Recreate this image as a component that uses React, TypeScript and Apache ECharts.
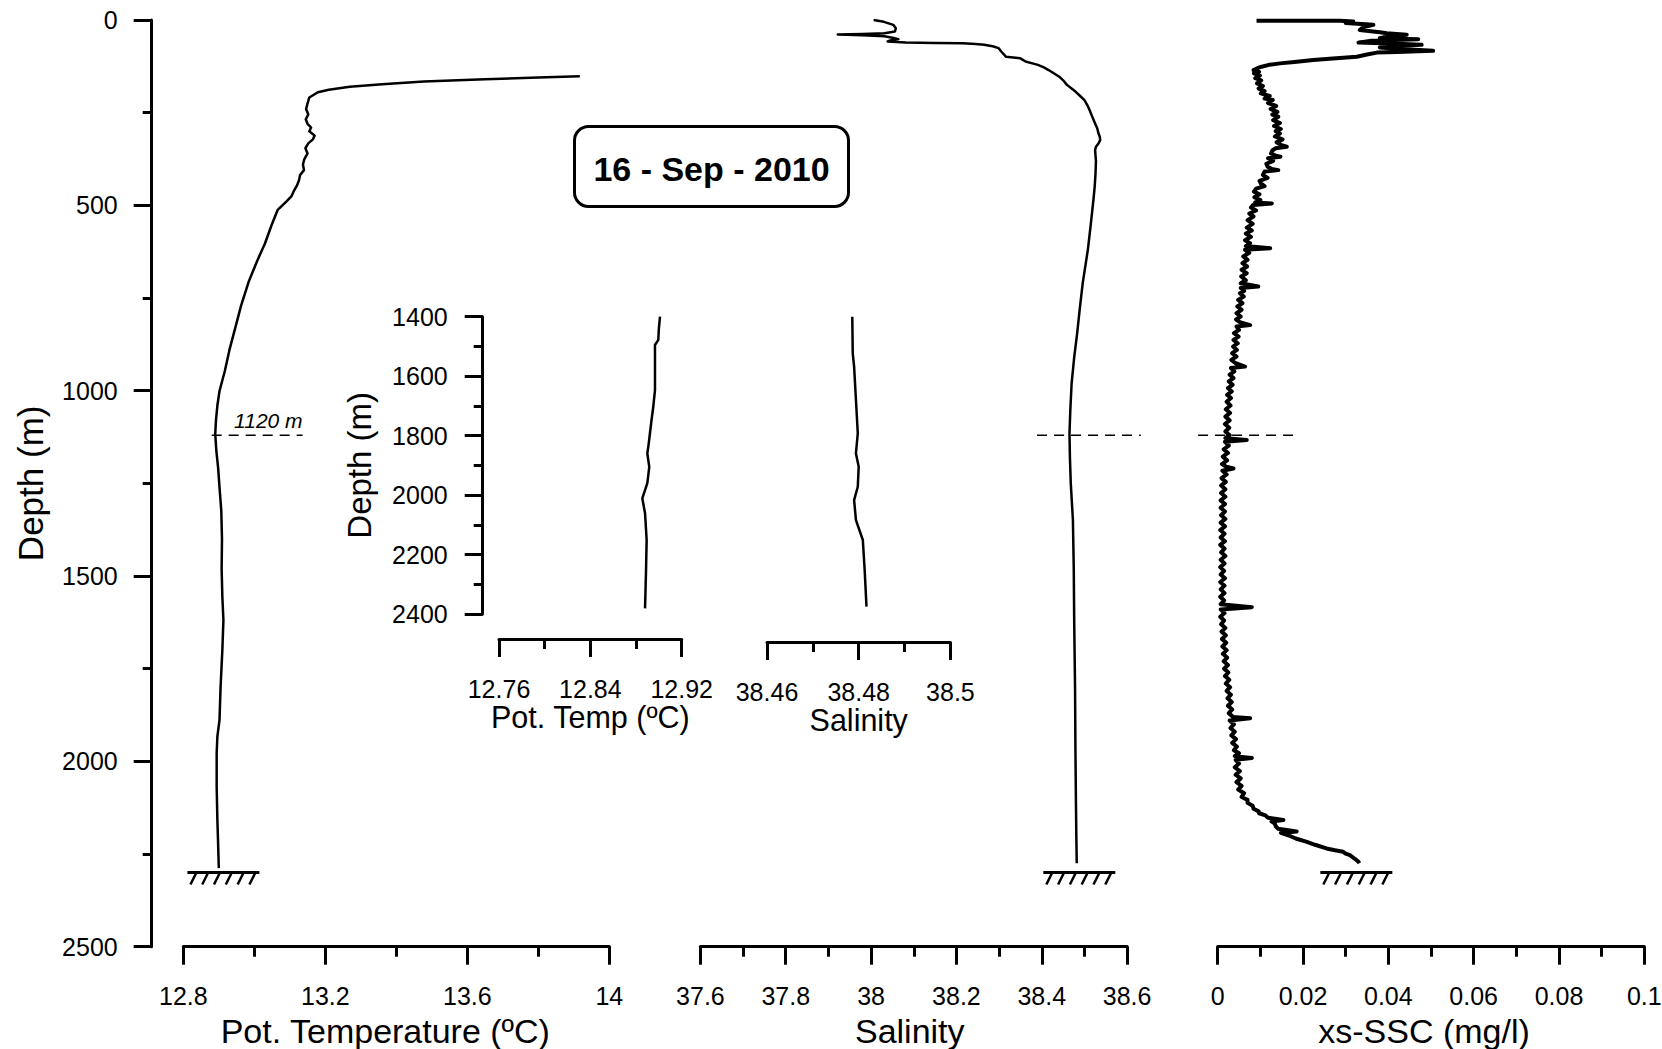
import { useEffect, useRef } from "react";
import * as echarts from "echarts";

const FONT = "'Liberation Sans', Arial, Helvetica, sans-serif";
const BLACK = "#000000";

// ---------- axes ----------
const depthRange = [0, 2500];
const depthStep = 500;
const tempRange = [12.8, 14];
const tempStep = 0.4;
const salRange = [37.6, 38.6];
const salStep = 0.2;
const sscRange = [0, 0.1];
const sscStep = 0.02;
const insetDepthRange = [1400, 2400];
const insetDepthStep = 200;
const insetTempRange = [12.76, 12.92];
const insetTempStep = 0.08;
const insetSalRange = [38.46, 38.5];
const insetSalStep = 0.02;

// ---------- texts ----------
const dateLabel = "16 - Sep - 2010";
const depthName = "Depth (m)";
const tempName = "Pot. Temperature (ºC)";
const salName = "Salinity";
const sscName = "xs-SSC (mg/l)";
const insetTempName = "Pot. Temp (ºC)";
const insetSalName = "Salinity";
const refLabel = "1120 m";

// ---------- reference depth / bottom ----------
const refDepth = 1120;
const refTempSpan = [12.88, 13.136];
const refSalSpan = [38.389, 38.632];
const refSscSpan = [-0.0046, 0.0191];
const bottomDepth = 2300;
const bottomTemp = 12.913;
const bottomSal = 38.488;
const bottomSsc = 0.0325;

// ---------- potential temperature profile ----------
const tempDepth = [152, 155, 160, 166, 173, 180, 188, 195, 209, 225, 240, 255, 268, 280, 290, 300, 312, 322, 333, 346,
  360, 375, 390, 405, 418, 432, 447, 460, 475, 490, 512, 555, 603, 650, 704, 770, 832, 890, 947, 1001,
  1040, 1080, 1117, 1162, 1207, 1261, 1324, 1400, 1480, 1556, 1619, 1700, 1800, 1888, 1933, 1978, 2068, 2158, 2220, 2288];
const tempValue = [13.917, 13.8, 13.65, 13.478, 13.36, 13.269, 13.21, 13.179, 13.155, 13.15, 13.146, 13.152, 13.145, 13.15, 13.16, 13.155, 13.17, 13.165, 13.152, 13.144,
  13.15, 13.141, 13.137, 13.14, 13.129, 13.126, 13.12, 13.112, 13.105, 13.09, 13.066, 13.048, 13.03, 13.008, 12.985, 12.963, 12.946, 12.93, 12.917, 12.902,
  12.896, 12.892, 12.89, 12.893, 12.898, 12.902, 12.907, 12.909, 12.908, 12.91, 12.913, 12.91, 12.905, 12.902, 12.896, 12.894, 12.894, 12.896, 12.898, 12.9];

// ---------- salinity profile ----------
const salDepth = [0, 5, 13, 22, 31, 36, 38, 39, 41, 44, 48, 52, 55, 58, 61, 62, 63, 65, 67, 71,
  76, 85, 99, 103, 112, 117, 121, 128, 135, 145, 153, 165, 175, 185, 193, 205, 216, 230, 243, 260,
  279, 292, 306, 315, 324, 333, 342, 351, 380, 414, 450, 486, 550, 620, 710, 780, 845, 910, 980, 1050,
  1115, 1180, 1250, 1349, 1480, 1619, 1800, 1978, 2100, 2200, 2275];
const salValue = [38.006, 38.03, 38.052, 38.058, 38.056, 38.031, 37.98, 37.922, 37.98, 38.031, 38.05, 38.064, 38.045, 38.039, 38.081, 38.15, 38.215, 38.245, 38.265, 38.285,
  38.299, 38.305, 38.316, 38.349, 38.362, 38.378, 38.391, 38.405, 38.416, 38.43, 38.441, 38.452, 38.459, 38.47, 38.479, 38.49, 38.5, 38.507, 38.512, 38.518,
  38.525, 38.53, 38.533, 38.536, 38.537, 38.533, 38.527, 38.525, 38.527, 38.526, 38.524, 38.521, 38.515, 38.508, 38.496, 38.489, 38.483, 38.476, 38.47, 38.467,
  38.465, 38.466, 38.468, 38.473, 38.475, 38.476, 38.478, 38.479, 38.48, 38.481, 38.482];

// ---------- xs-SSC profile: [depth, mg/l] ----------
const sscProfile = [
  [2, 0.0091], [2, 0.0287], [4, 0.0318], [8, 0.03], [13, 0.0365], [20, 0.034], [27, 0.0333], [33, 0.038], [36, 0.0396],
  [40, 0.0443], [44, 0.04], [49, 0.038], [52, 0.047], [56, 0.036], [61, 0.033], [64, 0.042], [67, 0.0478], [70, 0.04],
  [74, 0.038], [78, 0.043], [83, 0.0505], [86, 0.042], [88, 0.0373], [93, 0.035], [99, 0.0326], [104, 0.027], [108, 0.0224],
  [113, 0.018], [117, 0.0146], [121, 0.012], [126, 0.0103], [130, 0.0093], [135, 0.0084], [140, 0.0097], [144, 0.0085],
  [150, 0.0099], [157, 0.0088], [163, 0.0102], [171, 0.0092], [178, 0.0106], [185, 0.0096], [192, 0.011], [198, 0.0101],
  [205, 0.0122], [212, 0.011], [216, 0.0129], [224, 0.0118], [232, 0.0137], [240, 0.0124], [248, 0.014], [255, 0.0128],
  [261, 0.0142], [270, 0.013], [278, 0.0146], [286, 0.0132], [294, 0.0148], [300, 0.0136], [306, 0.0146], [314, 0.0134],
  [322, 0.0152], [330, 0.0138], [338, 0.015], [342, 0.0162], [346, 0.0136], [352, 0.0128], [360, 0.0125], [366, 0.0136],
  [369, 0.0147], [373, 0.0118], [380, 0.013], [388, 0.0114], [396, 0.0117], [402, 0.0127], [405, 0.0142], [409, 0.011],
  [418, 0.0106], [426, 0.0117], [434, 0.0098], [441, 0.0101], [448, 0.011], [455, 0.009], [463, 0.0085], [470, 0.0098],
  [478, 0.0086], [486, 0.01], [492, 0.0088], [495, 0.0127], [499, 0.0083], [506, 0.0078], [514, 0.009], [522, 0.0074],
  [530, 0.0084], [540, 0.007], [550, 0.0082], [560, 0.0068], [568, 0.008], [576, 0.0066], [585, 0.0078], [594, 0.0064],
  [602, 0.0076], [610, 0.0066], [616, 0.0123], [620, 0.0064], [628, 0.0074], [638, 0.006], [647, 0.007], [656, 0.0058],
  [665, 0.0069], [674, 0.0056], [683, 0.0068], [692, 0.0055], [702, 0.0066], [710, 0.0054], [719, 0.0095], [723, 0.0054],
  [731, 0.0062], [737, 0.0052], [746, 0.0061], [755, 0.0048], [764, 0.0058], [773, 0.0046], [782, 0.0056], [791, 0.0044],
  [800, 0.0054], [808, 0.0043], [815, 0.0052], [823, 0.0076], [827, 0.0044], [836, 0.005], [845, 0.0038], [854, 0.0049],
  [863, 0.0037], [872, 0.0047], [881, 0.0036], [890, 0.0045], [899, 0.0034], [908, 0.0044], [917, 0.0032], [926, 0.0042],
  [935, 0.0064], [939, 0.0031], [948, 0.0039], [957, 0.0028], [966, 0.0037], [975, 0.0026], [984, 0.0035], [993, 0.0024],
  [1002, 0.0033], [1011, 0.0022], [1020, 0.0031], [1030, 0.0021], [1040, 0.003], [1050, 0.0019], [1060, 0.0029],
  [1070, 0.0018], [1080, 0.0028], [1090, 0.0017], [1100, 0.0027], [1110, 0.0018], [1120, 0.0028], [1128, 0.0018],
  [1133, 0.0068], [1138, 0.0017], [1148, 0.0026], [1158, 0.0014], [1168, 0.0024], [1178, 0.0012], [1188, 0.0022],
  [1198, 0.001], [1205, 0.002], [1210, 0.0037], [1216, 0.0011], [1226, 0.0021], [1236, 0.0009], [1246, 0.0019],
  [1256, 0.0008], [1266, 0.0018], [1276, 0.0008], [1286, 0.0018], [1296, 0.0007], [1306, 0.0017], [1316, 0.0007],
  [1326, 0.0017], [1336, 0.0008], [1346, 0.0018], [1356, 0.0007], [1366, 0.0017], [1376, 0.0006], [1386, 0.0016],
  [1396, 0.0007], [1406, 0.0017], [1416, 0.0006], [1426, 0.0016], [1436, 0.0008], [1446, 0.0018], [1456, 0.0007],
  [1466, 0.0016], [1476, 0.0006], [1486, 0.0015], [1496, 0.0007], [1506, 0.0017], [1516, 0.0006], [1526, 0.0016],
  [1536, 0.0007], [1546, 0.0016], [1556, 0.0006], [1566, 0.0015], [1576, 0.0007], [1584, 0.008], [1590, 0.0007],
  [1600, 0.0016], [1610, 0.0006], [1620, 0.0015], [1630, 0.0008], [1640, 0.0018], [1650, 0.0009], [1660, 0.0019],
  [1670, 0.001], [1680, 0.002], [1690, 0.0011], [1700, 0.0021], [1710, 0.0012], [1720, 0.0022], [1730, 0.0014],
  [1740, 0.0024], [1750, 0.0015], [1760, 0.0025], [1770, 0.0017], [1780, 0.0027], [1790, 0.0019], [1800, 0.0029],
  [1810, 0.0021], [1820, 0.0031], [1830, 0.0023], [1840, 0.0033], [1850, 0.0024], [1860, 0.0034], [1870, 0.0026],
  [1880, 0.0036], [1884, 0.0076], [1890, 0.0028], [1900, 0.0038], [1910, 0.003], [1920, 0.004], [1930, 0.0032],
  [1940, 0.0043], [1950, 0.0034], [1960, 0.0045], [1970, 0.0038], [1978, 0.005], [1986, 0.004], [1991, 0.008],
  [1996, 0.0042], [2006, 0.005], [2016, 0.004], [2026, 0.0052], [2036, 0.0042], [2046, 0.0054], [2056, 0.0044],
  [2066, 0.0056], [2076, 0.0048], [2086, 0.0062], [2096, 0.0056], [2104, 0.007], [2112, 0.007], [2120, 0.0082],
  [2128, 0.0084], [2135, 0.0096], [2140, 0.0097], [2146, 0.0112], [2152, 0.0118], [2158, 0.0154], [2162, 0.0126],
  [2168, 0.0134], [2175, 0.0136], [2182, 0.0142], [2189, 0.0185], [2193, 0.0148], [2200, 0.0167], [2208, 0.0183],
  [2217, 0.0209], [2225, 0.0228], [2235, 0.0255], [2240, 0.0275], [2244, 0.0294], [2249, 0.03], [2253, 0.031],
  [2260, 0.0318], [2266, 0.0325], [2271, 0.033], [2275, 0.0332],
];

// ---------- inset (deep part) ----------
const insetTempDepth = [1400, 1440, 1478, 1495, 1560, 1647, 1703, 1750, 1792, 1830, 1860, 1905, 1960, 2011, 2061, 2151, 2263, 2381];
const insetTempValue = [12.901, 12.9, 12.8995, 12.8966, 12.8966, 12.8966, 12.8951, 12.8935, 12.8922, 12.891, 12.8899, 12.8916, 12.8899, 12.8855, 12.8879, 12.8893, 12.8887, 12.8879];
const insetSalDepth = [1400, 1523, 1568, 1680, 1792, 1860, 1905, 1972, 2017, 2084, 2151, 2252, 2375];
const insetSalValue = [38.4786, 38.4787, 38.479, 38.4794, 38.4798, 38.4794, 38.48, 38.4798, 38.479, 38.4794, 38.4809, 38.4813, 38.4817];

const fmt = (v: number) => String(parseFloat(v.toFixed(3)));
const span = (r: number[]) => parseFloat((r[1] - r[0]).toFixed(6));

const axisLine = { show: true, onZero: false, lineStyle: { color: BLACK, width: 3 } };

function xAxis(gridIndex: number, min: number, max: number, interval: number, name: string, o: any = {}) {
  return {
    type: "value", gridIndex, min, max, interval, position: "bottom", offset: o.offset ?? 0,
    name, nameLocation: "middle", nameGap: o.nameGap ?? 62,
    nameTextStyle: { fontFamily: FONT, fontSize: o.nameSize ?? 34, color: BLACK, padding: o.namePad ?? 0 },
    axisLine,
    axisTick: { show: true, length: 18, lineStyle: { color: BLACK, width: 3 } },
    minorTick: { show: true, splitNumber: 2, length: 10, lineStyle: { color: BLACK, width: 3 } },
    splitLine: { show: false }, minorSplitLine: { show: false },
    axisLabel: { fontFamily: FONT, fontSize: 25, color: BLACK, margin: 37, formatter: o.fmt ?? ((v: number) => fmt(v)) },
  };
}

function yAxis(gridIndex: number, min: number, max: number, interval: number, show: boolean, o: any = {}) {
  return {
    type: "value", gridIndex, min, max, interval, inverse: true, show, position: "left", offset: o.offset ?? 0,
    name: o.name, nameLocation: "middle", nameRotate: 90, nameGap: o.nameGap ?? 100,
    nameTextStyle: { fontFamily: FONT, fontSize: o.nameSize ?? 34, color: BLACK },
    axisLine,
    axisTick: { show: true, length: 18, lineStyle: { color: BLACK, width: 3 } },
    minorTick: { show: true, splitNumber: 2, length: 9, lineStyle: { color: BLACK, width: 3 } },
    splitLine: { show: false }, minorSplitLine: { show: false },
    axisLabel: { fontFamily: FONT, fontSize: 25, color: BLACK, margin: o.margin ?? 34, formatter: (v: number) => String(v) },
  };
}

function profile(xIdx: number, data: number[][], width: number) {
  return {
    type: "line", xAxisIndex: xIdx, yAxisIndex: xIdx, data, showSymbol: false, symbol: "none",
    lineStyle: { color: BLACK, width, join: "round" }, clip: false, silent: true, animation: false,
  };
}

function refLine(xIdx: number, spanX: number[], label: string) {
  return {
    type: "custom", xAxisIndex: xIdx, yAxisIndex: xIdx, silent: true, clip: false,
    encode: { x: [0, 1], y: 2 },
    data: [[spanX[0], spanX[1], refDepth]],
    renderItem: (_p: any, api: any) => {
      const a = api.coord([api.value(0), api.value(2)]);
      const b = api.coord([api.value(1), api.value(2)]);
      const children: any[] = [{
        type: "line", shape: { x1: a[0], y1: a[1], x2: b[0], y2: b[1] },
        style: { stroke: BLACK, lineWidth: 1.5, lineDash: [10, 7] },
      }];
      if (label) {
        children.push({
          type: "text", x: b[0], y: b[1] - 4,
          style: { text: label, fontFamily: FONT, fontSize: 21, fontStyle: "italic", fill: BLACK, align: "right", verticalAlign: "bottom" },
        });
      }
      return { type: "group", children };
    },
  };
}

function hatch(xIdx: number, x: number) {
  return {
    type: "custom", xAxisIndex: xIdx, yAxisIndex: xIdx, silent: true, clip: false,
    data: [[x, bottomDepth]],
    renderItem: (_p: any, api: any) => {
      const c = api.coord([api.value(0), api.value(1)]);
      const half = 36;
      const children: any[] = [{
        type: "line", shape: { x1: c[0] - half, y1: c[1], x2: c[0] + half, y2: c[1] },
        style: { stroke: BLACK, lineWidth: 3 },
      }];
      for (let i = 0; i < 6; i++) {
        const sx = c[0] - half + 9 + i * 11.8;
        children.push({
          type: "line", shape: { x1: sx, y1: c[1], x2: sx - 6, y2: c[1] + 12 },
          style: { stroke: BLACK, lineWidth: 2.5 },
        });
      }
      return { type: "group", children };
    },
  };
}

export default function App() {
  const ref = useRef<HTMLDivElement>(null);
  useEffect(() => {
    if (!ref.current) return;
    const chart = echarts.init(ref.current, null, { renderer: "svg" });
    const gTop = 20, gH = 926.7;
    const insetTop = 316.7, insetH = 297.3;
    const option: any = {
      animation: false,
      backgroundColor: "#ffffff",
      textStyle: { fontFamily: FONT },
      grid: [
        { left: 183.3, top: gTop, width: 426, height: gH, outerBoundsMode: "none" },
        { left: 700.4, top: gTop, width: 426.7, height: gH, outerBoundsMode: "none" },
        { left: 1217.7, top: gTop, width: 426.6, height: gH, outerBoundsMode: "none" },
        { left: 499, top: insetTop, width: 182.7, height: insetH, outerBoundsMode: "none" },
        { left: 767, top: insetTop, width: 183.4, height: insetH, outerBoundsMode: "none" },
      ],
      xAxis: [
        xAxis(0, tempRange[0], tempRange[1], tempStep, tempName, { namePad: [0, 22, 0, 0] }),
        xAxis(1, 0, span(salRange), salStep, salName, { fmt: (v: number) => fmt(salRange[0] + v), namePad: [0, 8, 0, 0] }),
        xAxis(2, sscRange[0], sscRange[1], sscStep, sscName, { namePad: [0, 14, 0, 0] }),
        xAxis(3, 0, span(insetTempRange), insetTempStep, insetTempName, { offset: 25, nameGap: 62, nameSize: 30.5, fmt: (v: number) => fmt(insetTempRange[0] + v) }),
        xAxis(4, 0, span(insetSalRange), insetSalStep, insetSalName, { offset: 28, nameGap: 60, nameSize: 30.5, fmt: (v: number) => fmt(insetSalRange[0] + v) }),
      ],
      yAxis: [
        yAxis(0, depthRange[0], depthRange[1], depthStep, true, { offset: 31.6, name: depthName, nameGap: 104, nameSize: 35 }),
        yAxis(1, depthRange[0], depthRange[1], depthStep, false),
        yAxis(2, depthRange[0], depthRange[1], depthStep, false),
        yAxis(3, insetDepthRange[0], insetDepthRange[1], insetDepthStep, true, { offset: 16.3, name: depthName, nameGap: 107, margin: 35, nameSize: 33 }),
        yAxis(4, insetDepthRange[0], insetDepthRange[1], insetDepthStep, false),
      ],
      series: [
        profile(0, tempDepth.map((d, i) => [tempValue[i], d]), 2.5),
        profile(1, salDepth.map((d, i) => [salValue[i] - salRange[0], d]), 2.5),
        profile(2, sscProfile.map((p) => [p[1], p[0]]), 4),
        profile(3, insetTempDepth.map((d, i) => [insetTempValue[i] - insetTempRange[0], d]), 2.5),
        profile(4, insetSalDepth.map((d, i) => [insetSalValue[i] - insetSalRange[0], d]), 2.5),
        refLine(0, refTempSpan, refLabel),
        refLine(1, [refSalSpan[0] - salRange[0], refSalSpan[1] - salRange[0]], ""),
        refLine(2, refSscSpan, ""),
        hatch(0, bottomTemp),
        hatch(1, bottomSal - salRange[0]),
        hatch(2, bottomSsc),
      ],
      graphic: [
        {
          type: "group", left: 573, top: 125, silent: true,
          children: [
            { type: "rect", shape: { x: 0, y: 0, width: 274, height: 80, r: 14 }, style: { fill: "#ffffff", stroke: BLACK, lineWidth: 3 } },
            {
              type: "text", x: 137, y: 42,
              style: { text: dateLabel, fontFamily: FONT, fontSize: 34, fontWeight: "bold", fill: BLACK, align: "center", verticalAlign: "middle" },
            },
          ],
        },
      ],
    };
    chart.setOption(option);
    return () => chart.dispose();
  }, []);
  return <div ref={ref} style={{ position: "absolute", left: 0, top: 0, width: 1662, height: 1049 }} />;
}
